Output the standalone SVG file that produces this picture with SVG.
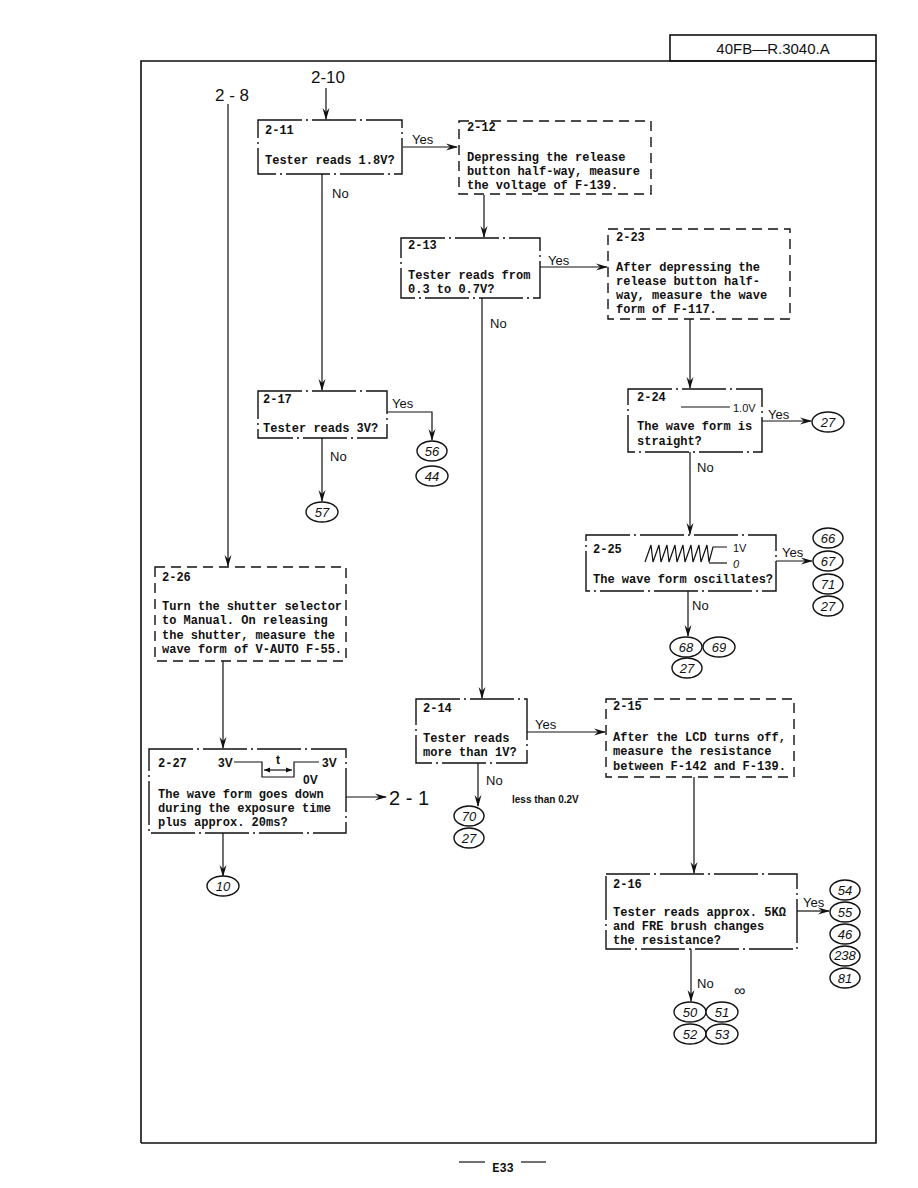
<svg xmlns="http://www.w3.org/2000/svg" width="918" height="1188" viewBox="0 0 918 1188">
<defs>
<style>
.frame{fill:none;stroke:#111;stroke-width:1.6}
.dec{fill:none;stroke:#111;stroke-width:1.4;stroke-dasharray:44 4 2 4}
.proc{fill:none;stroke:#111;stroke-width:1.4;stroke-dasharray:10 6}
.ln{fill:none;stroke:#111;stroke-width:1.2}
.mono{font-family:"Liberation Mono","DejaVu Sans Mono",monospace;font-size:12px;fill:#111;font-weight:bold}
.hand{font-family:"Liberation Sans","DejaVu Sans",sans-serif;fill:#111}
.lbl{font-size:13px}
.big{font-size:17px}
.ell{fill:#fff;stroke:#111;stroke-width:1.4}
.num{font-family:"Liberation Sans","DejaVu Sans",sans-serif;font-size:13px;fill:#111;font-style:italic;text-anchor:middle}
</style>
<marker id="ar" markerWidth="12" markerHeight="8" refX="11" refY="4" orient="auto" markerUnits="userSpaceOnUse">
<path d="M0,0.5 L12,4 L0,7.5 L4,4 Z" fill="#111"/>
</marker>
</defs>
<rect width="918" height="1188" fill="#fff"/>
<g id="frame">
<polyline class="frame" points="141,1143 141,61 876,61 876,1143 141,1143"/>
<rect class="frame" x="670" y="35" width="206" height="26"/>
<text class="hand" x="773" y="54" font-size="15" text-anchor="middle">40FB—R.3040.A</text>
<line class="ln" x1="459" y1="1162" x2="485" y2="1162" stroke-width="2"/>
<line class="ln" x1="521" y1="1162" x2="546" y2="1162" stroke-width="2"/>
<text class="mono" x="503" y="1172" text-anchor="middle" font-size="11">E33</text>
</g>
<g id="connectors">
<line class="ln" x1="326" y1="88" x2="326" y2="119" marker-end="url(#ar)"/>
<line class="ln" x1="228" y1="104" x2="228" y2="566" marker-end="url(#ar)"/>
<line class="ln" x1="403" y1="147" x2="457" y2="147" marker-end="url(#ar)"/>
<line class="ln" x1="322" y1="174" x2="322" y2="390" marker-end="url(#ar)"/>
<line class="ln" x1="484" y1="195" x2="484" y2="237" marker-end="url(#ar)"/>
<line class="ln" x1="540" y1="267" x2="607" y2="267" marker-end="url(#ar)"/>
<line class="ln" x1="690" y1="319" x2="690" y2="388" marker-end="url(#ar)"/>
<line class="ln" x1="762" y1="421" x2="811" y2="421" marker-end="url(#ar)"/>
<line class="ln" x1="690" y1="452" x2="690" y2="534" marker-end="url(#ar)"/>
<line class="ln" x1="776" y1="561" x2="812" y2="561" marker-end="url(#ar)"/>
<line class="ln" x1="688" y1="591" x2="688" y2="636" marker-end="url(#ar)"/>
<polyline class="ln" points="387,412 432,412 432,440" marker-end="url(#ar)"/>
<line class="ln" x1="322" y1="438" x2="322" y2="501" marker-end="url(#ar)"/>
<line class="ln" x1="482" y1="298" x2="482" y2="698" marker-end="url(#ar)"/>
<line class="ln" x1="527" y1="732" x2="605" y2="732" marker-end="url(#ar)"/>
<line class="ln" x1="478" y1="763" x2="478" y2="806" marker-end="url(#ar)"/>
<line class="ln" x1="694" y1="777" x2="694" y2="873" marker-end="url(#ar)"/>
<line class="ln" x1="797" y1="911" x2="829" y2="911" marker-end="url(#ar)"/>
<line class="ln" x1="691" y1="949" x2="691" y2="1001" marker-end="url(#ar)"/>
<line class="ln" x1="223" y1="661" x2="223" y2="748" marker-end="url(#ar)"/>
<line class="ln" x1="346" y1="797" x2="386" y2="797" marker-end="url(#ar)"/>
<line class="ln" x1="223" y1="833" x2="223" y2="876" marker-end="url(#ar)"/>
<text class="hand big" x="311" y="83">2-10</text>
<text class="hand big" x="215" y="101">2 - 8</text>
<text class="hand" x="389" y="805" font-size="20">2 - 1</text>
<text class="hand lbl" x="412" y="144">Yes</text>
<text class="hand lbl" x="332" y="198">No</text>
<text class="hand lbl" x="548" y="265">Yes</text>
<text class="hand lbl" x="490" y="328">No</text>
<text class="hand lbl" x="392" y="408">Yes</text>
<text class="hand lbl" x="330" y="461">No</text>
<text class="hand lbl" x="768" y="419">Yes</text>
<text class="hand lbl" x="697" y="472">No</text>
<text class="hand lbl" x="782" y="557">Yes</text>
<text class="hand lbl" x="692" y="610">No</text>
<text class="hand lbl" x="535" y="729">Yes</text>
<text class="hand lbl" x="486" y="785">No</text>
<text class="hand" x="512" y="803" font-size="10" font-weight="bold">less than 0.2V</text>
<text class="hand lbl" x="803" y="907">Yes</text>
<text class="hand lbl" x="697" y="988">No</text>
<text class="hand" x="734" y="996" font-size="16">∞</text>
</g>
<g id="n2-11">
<rect class="dec" x="258" y="120" width="144" height="54"/>
<text class="mono" x="265" y="134">2-11</text>
<text class="mono" x="265" y="164">Tester reads 1.8V?</text>
</g>
<g id="n2-12">
<rect class="proc" x="459" y="121" width="192" height="73"/>
<text class="mono" x="467" y="131">2-12</text>
<text class="mono" x="467" y="161">Depressing the release</text>
<text class="mono" x="467" y="175">button half-way, measure</text>
<text class="mono" x="467" y="189">the voltage of F-139.</text>
</g>
<g id="n2-13">
<rect class="dec" x="401" y="238" width="139" height="60"/>
<text class="mono" x="408" y="249">2-13</text>
<text class="mono" x="408" y="279">Tester reads from</text>
<text class="mono" x="408" y="293">0.3 to 0.7V?</text>
</g>
<g id="n2-23">
<rect class="proc" x="608" y="229" width="182" height="90"/>
<text class="mono" x="616" y="241">2-23</text>
<text class="mono" x="616" y="271">After depressing the</text>
<text class="mono" x="616" y="285">release button half-</text>
<text class="mono" x="616" y="299">way, measure the wave</text>
<text class="mono" x="616" y="313">form of F-117.</text>
</g>
<g id="n2-17">
<rect class="dec" x="258" y="391" width="129" height="47"/>
<text class="mono" x="263" y="403">2-17</text>
<text class="mono" x="263" y="432">Tester reads 3V?</text>
</g>
<g id="n2-24">
<rect class="dec" x="628" y="389" width="134" height="63"/>
<text class="mono" x="637" y="401">2-24</text>
<line class="ln" x1="681" y1="407" x2="730" y2="407"/>
<text class="hand" x="733" y="412" font-size="11">1.0V</text>
<text class="mono" x="637" y="430">The wave form is</text>
<text class="mono" x="637" y="445">straight?</text>
</g>
<g id="n2-25">
<rect class="dec" x="586" y="535" width="190" height="56"/>
<text class="mono" x="593" y="553">2-25</text>
<polyline class="ln" points="645,562 651,545 653,562 659,545 661,562 667,545 669,562 675,545 677,562 683,545 685,562 691,545 693,562 699,545 701,562 707,545 709,562 713,547 727,547"/>
<line class="ln" x1="709" y1="563" x2="727" y2="563"/>
<text class="hand" x="733" y="552" font-size="11">1V</text>
<text class="hand" x="733" y="568" font-size="11" font-style="italic">0</text>
<text class="mono" x="593" y="583">The wave form oscillates?</text>
</g>
<g id="n2-26">
<rect class="proc" x="155" y="567" width="191" height="94"/>
<text class="mono" x="162" y="581">2-26</text>
<text class="mono" x="162" y="610">Turn the shutter selector</text>
<text class="mono" x="162" y="624">to Manual. On releasing</text>
<text class="mono" x="162" y="639">the shutter, measure the</text>
<text class="mono" x="162" y="653">wave form of V-AUTO F-55.</text>
</g>
<g id="n2-27">
<rect class="dec" x="149" y="749" width="197" height="84"/>
<text class="mono" x="158" y="767">2-27</text>
<text class="hand" x="218" y="767" font-size="12" font-weight="bold">3V</text>
<polyline class="ln" points="234,762 262,762 262,777 294,777 294,762 319,762"/>
<line class="ln" x1="264" y1="770" x2="292" y2="770"/>
<path d="M264,770 l6,-2.5 v5 z M292,770 l-6,-2.5 v5 z" fill="#111"/>
<text class="hand" x="276" y="764" font-size="12" font-weight="bold">t</text>
<text class="hand" x="322" y="767" font-size="12" font-weight="bold">3V</text>
<text class="hand" x="303" y="784" font-size="12" font-weight="bold">0V</text>
<text class="mono" x="158" y="798">The wave form goes down</text>
<text class="mono" x="158" y="812">during the exposure time</text>
<text class="mono" x="158" y="826">plus approx. 20ms?</text>
</g>
<g id="n2-14">
<rect class="dec" x="416" y="699" width="111" height="64"/>
<text class="mono" x="423" y="712">2-14</text>
<text class="mono" x="423" y="742">Tester reads</text>
<text class="mono" x="423" y="756">more than 1V?</text>
</g>
<g id="n2-15">
<rect class="proc" x="606" y="699" width="188" height="78"/>
<text class="mono" x="613" y="710">2-15</text>
<text class="mono" x="613" y="741">After the LCD turns off,</text>
<text class="mono" x="613" y="755">measure the resistance</text>
<text class="mono" x="613" y="770">between F-142 and F-139.</text>
</g>
<g id="n2-16">
<rect class="dec" x="606" y="874" width="191" height="75"/>
<text class="mono" x="613" y="888">2-16</text>
<text class="mono" x="613" y="916">Tester reads approx. 5KΩ</text>
<text class="mono" x="613" y="930">and FRE brush changes</text>
<text class="mono" x="613" y="944">the resistance?</text>
</g>
<g id="refs">
<ellipse class="ell" cx="828" cy="422" rx="16" ry="10"/><text class="num" x="828" y="427">27</text>
<ellipse class="ell" cx="828" cy="538" rx="15" ry="10"/><text class="num" x="828" y="543">66</text>
<ellipse class="ell" cx="828" cy="561" rx="15" ry="10"/><text class="num" x="828" y="566">67</text>
<ellipse class="ell" cx="828" cy="584" rx="15" ry="10"/><text class="num" x="828" y="589">71</text>
<ellipse class="ell" cx="828" cy="606" rx="15" ry="10"/><text class="num" x="828" y="611">27</text>
<ellipse class="ell" cx="686" cy="647" rx="16" ry="10"/><text class="num" x="686" y="652">68</text>
<ellipse class="ell" cx="719" cy="647" rx="16" ry="10"/><text class="num" x="719" y="652">69</text>
<ellipse class="ell" cx="687" cy="668" rx="15" ry="10"/><text class="num" x="687" y="673">27</text>
<ellipse class="ell" cx="432" cy="451" rx="15" ry="10"/><text class="num" x="432" y="456">56</text>
<ellipse class="ell" cx="432" cy="476" rx="16" ry="10"/><text class="num" x="432" y="481">44</text>
<ellipse class="ell" cx="322" cy="512" rx="16" ry="10"/><text class="num" x="322" y="517">57</text>
<ellipse class="ell" cx="469" cy="816" rx="15" ry="10"/><text class="num" x="469" y="821">70</text>
<ellipse class="ell" cx="469" cy="838" rx="15" ry="10"/><text class="num" x="469" y="843">27</text>
<ellipse class="ell" cx="845" cy="890" rx="15" ry="10"/><text class="num" x="845" y="895">54</text>
<ellipse class="ell" cx="845" cy="912" rx="15" ry="10"/><text class="num" x="845" y="917">55</text>
<ellipse class="ell" cx="845" cy="934" rx="15" ry="10"/><text class="num" x="845" y="939">46</text>
<ellipse class="ell" cx="845" cy="956" rx="15" ry="10"/><text class="num" x="845" y="960" font-size="11">238</text>
<ellipse class="ell" cx="845" cy="978" rx="15" ry="10"/><text class="num" x="845" y="983">81</text>
<ellipse class="ell" cx="690" cy="1012" rx="16" ry="10"/><text class="num" x="690" y="1017">50</text>
<ellipse class="ell" cx="722" cy="1012" rx="16" ry="10"/><text class="num" x="722" y="1017">51</text>
<ellipse class="ell" cx="690" cy="1034" rx="16" ry="10"/><text class="num" x="690" y="1039">52</text>
<ellipse class="ell" cx="722" cy="1034" rx="16" ry="10"/><text class="num" x="722" y="1039">53</text>
<ellipse class="ell" cx="223" cy="886" rx="16" ry="10"/><text class="num" x="223" y="891">10</text>
</g>
</svg>
